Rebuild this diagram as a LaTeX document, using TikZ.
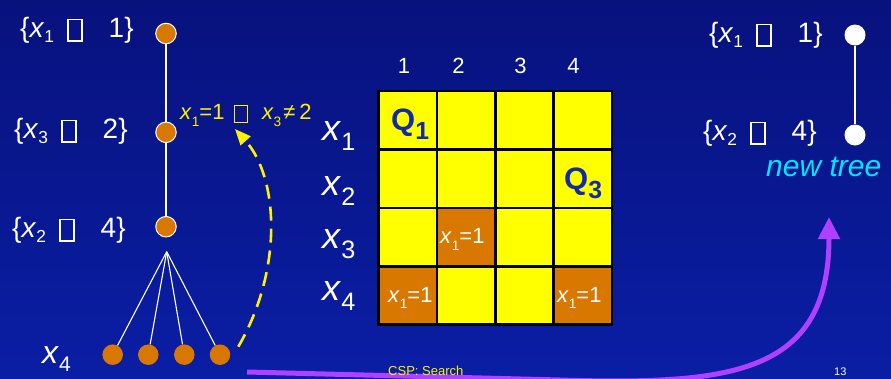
\documentclass[tikz,border=0pt]{standalone}
\usepackage{fontspec}
\setmainfont{Liberation Sans}
\usetikzlibrary{arrows.meta}
\definecolor{bgtop}{RGB}{8,18,125}
\definecolor{bgbot}{RGB}{10,30,165}
\definecolor{nodeorange}{RGB}{217,120,0}
\definecolor{cellyellow}{RGB}{255,255,0}
\definecolor{qblue}{RGB}{18,42,165}
\definecolor{arrowpurple}{RGB}{176,64,255}
\definecolor{treecyan}{RGB}{0,230,255}
% subscript: scale, lowering, text
\newcommand\vsub[3]{\raisebox{-#2}{\scalebox{#1}{#3}}}
% missing-glyph box as printed in the reference
\newcommand\tofu[1][0.45em]{\begingroup\setlength\fboxrule{0.055em}\setlength\fboxsep{0pt}%
  \raisebox{-0.12em}{\fbox{\rule{0pt}{0.72em}\hspace{#1}}}\endgroup}
\newcommand\setlbl[2]{\{\textit{x}\vsub{0.62}{0.18em}{#1}\hspace{13pt}\tofu\hspace{26pt}#2\}}
\newcommand\cellx{\textit{x}\vsub{0.62}{0.3em}{1}=1}
\begin{document}
\begin{tikzpicture}[x=1pt,y=-1pt,
  lbl/.style={text=white,font=\fontsize{28}{32}\selectfont,inner sep=0pt,anchor=base west},
  rowlbl/.style={text=white,font=\fontsize{36}{40}\selectfont,inner sep=0pt,anchor=base west},
  collbl/.style={text=white,font=\fontsize{22}{26}\selectfont,inner sep=0pt,anchor=base},
  celltxt/.style={text=white,font=\fontsize{22}{26}\selectfont,inner sep=0pt,anchor=base west},
  qlbl/.style={text=qblue,font=\fontsize{31}{36}\selectfont\bfseries,inner sep=0pt,anchor=base west},
  onode/.style={circle,fill=nodeorange,minimum size=20.5pt,inner sep=0pt},
  onodeb/.style={onode,draw=white,line width=1pt},
  wnode/.style={circle,fill=white,minimum size=21pt,inner sep=0pt},
  treeline/.style={white,line width=1.1pt},
  gridline/.style={black,line width=2.6pt},
]
\useasboundingbox (0,0) rectangle (891,378);
\clip (0,0) rectangle (891,378);
\shade[top color=bgtop,bottom color=bgbot] (0,0) rectangle (891,378);

% left tree
\node[onodeb] (n1) at (166,33.5) {};
\node[onodeb] (n2) at (166,132.3) {};
\node[onodeb] (n3) at (166,226.7) {};
\coordinate (apex) at (166.7,251.7);
\node[onode] (b1) at (112.7,354.7) {};
\node[onode] (b2) at (148.3,354.7) {};
\node[onode] (b3) at (184.3,354.7) {};
\node[onode] (b4) at (220,354.7) {};
\draw[treeline] (n1) -- (n2);
\draw[treeline] (n2) -- (n3);
\foreach \b in {b1,b2,b3,b4} \draw[treeline] (apex) -- (\b);

\node[lbl] (l1) at (20,37) {\setlbl{1}{1}};
\node[lbl] (l3) at (14,138) {\setlbl{3}{2}};
\node[lbl] (l2) at (12,237) {\setlbl{2}{4}};
\node[lbl,font=\fontsize{32}{36}\selectfont] (l4) at (42,363) {\textit{x}\vsub{0.66}{0.28em}{4}};

% yellow constraint label and dashed arrow
\node[lbl,text=yellow,font=\fontsize{22}{26}\selectfont] (cons) at (180,119.5)
  {\textit{x}\vsub{0.62}{0.3em}{1}=1\hspace{9pt}\tofu[0.55em]\hspace{14pt}\textit{x}\vsub{0.62}{0.3em}{3}\hspace{2pt}≠\hspace{4pt}2};
\coordinate (ys) at (238.3,346.7);
\coordinate (ye) at (235,129);
\draw[yellow,line width=2.6pt,dash pattern=on 14pt off 8pt,
  -{Triangle[length=16pt,width=13pt]}]
  (ys) .. controls (283,270) and (279,178) .. (ye);

% grid
\begin{scope}[shift={(378.5,91)}]
  \fill[cellyellow] (0,0) rectangle (233.6,233.6);
  \fill[nodeorange] (58.4,116.8) rectangle (116.8,175.2);
  \fill[nodeorange] (0,175.2) rectangle (58.4,233.6);
  \fill[nodeorange] (175.2,175.2) rectangle (233.6,233.6);
  \foreach \i in {1,2,3} {
    \draw[gridline] (\i*58.4,0) -- (\i*58.4,233.6);
    \draw[gridline] (0,\i*58.4) -- (233.6,\i*58.4);
  }
  \draw[gridline] (0,0) rectangle (233.6,233.6);
\end{scope}

\node[collbl] (c1) at (404,73.5) {1};
\node[collbl] (c2) at (458.5,73.5) {2};
\node[collbl] (c3) at (520.5,73.5) {3};
\node[collbl] (c4) at (573.5,73.5) {4};

\node[rowlbl] (r1l) at (322,140) {\textit{x}\vsub{0.7}{0.28em}{1}};
\node[rowlbl] (r2l) at (322,195) {\textit{x}\vsub{0.7}{0.28em}{2}};
\node[rowlbl] (r3l) at (322,248) {\textit{x}\vsub{0.7}{0.28em}{3}};
\node[rowlbl] (r4l) at (322,300) {\textit{x}\vsub{0.7}{0.28em}{4}};

\node[qlbl] (q1) at (391,130) {Q\vsub{0.8}{0.32em}{1}};
\node[qlbl] (q3) at (564,189) {Q\vsub{0.8}{0.32em}{3}};

\node[celltxt] (t32) at (440,243.5) {\cellx};
\node[celltxt] (t41) at (388,302) {\cellx};
\node[celltxt] (t44) at (557,302) {\cellx};

% right tree
\node[wnode] (rt1) at (855,35) {};
\node[wnode] (rt2) at (855,135) {};
\draw[treeline] (rt1) -- (rt2);
\node[lbl] (rl1) at (709,42) {\setlbl{1}{1}};
\node[lbl] (rl2) at (703,140) {\setlbl{2}{4}};
\node[lbl,text=treecyan,font=\fontsize{30}{34}\selectfont\itshape] (nt) at (766,176) {new tree};

% purple arrow
\coordinate (ps) at (247,372);
\coordinate (pm) at (560,380);
\coordinate (pe) at (829,217);
\draw[arrowpurple,line width=5pt,-{Triangle[length=22pt,width=21pt]}]
  (ps) -- (pm) .. controls (730,385) and (829,375) .. (pe);

% footer
\node[lbl,text=yellow,font=\fontsize{13}{15}\selectfont] (foot) at (388,375) {CSP: Search};
\node[lbl,font=\fontsize{11}{13}\selectfont] (pg) at (834,375) {13};
\end{tikzpicture}
\end{document}
